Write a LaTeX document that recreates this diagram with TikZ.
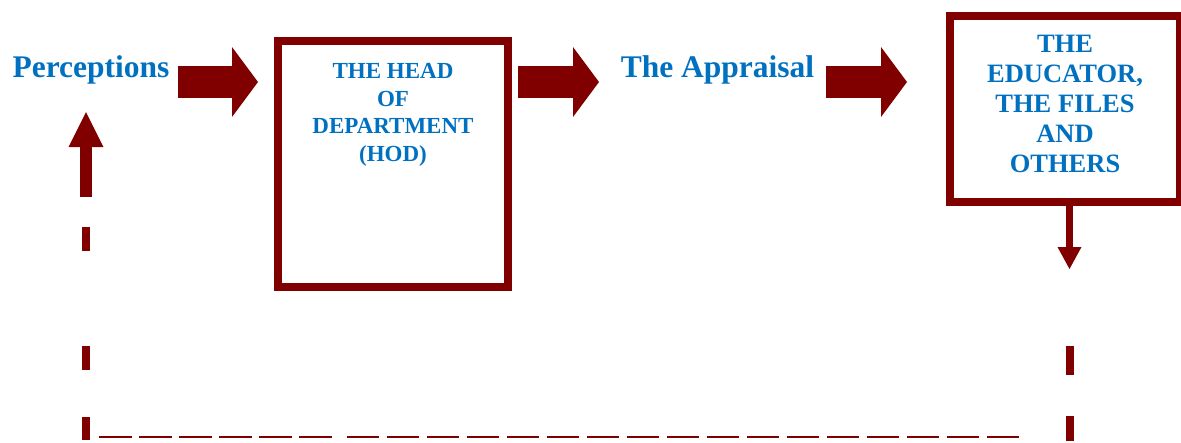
\documentclass[tikz,border=0pt]{standalone}
\usepackage{fontspec}
\setmainfont{Liberation Serif}
\usetikzlibrary{arrows.meta,calc}
\definecolor{maroon}{HTML}{800000}
\definecolor{txtblue}{HTML}{0070C0}
\begin{document}
\begin{tikzpicture}[x=1pt,y=-1pt,
  bigtext/.style={text=txtblue,inner sep=0pt,font=\fontsize{31.5}{36}\selectfont\bfseries},
  boxtext/.style={text=txtblue,inner sep=0pt,align=center},
  panel/.style={draw=maroon,line width=7.5pt,inner sep=0pt},
  blockarrow/.style={draw=maroon,line width=32pt,
    -{Triangle[length=26pt,width=70pt,line width=0pt]}},
  thinup/.style={draw=maroon,line width=12pt,
    -{Triangle[length=35pt,width=35pt,line width=0pt]}},
  thindown/.style={draw=maroon,line width=7.5pt,
    -{Triangle[length=22pt,width=24pt,line width=0pt]}},
  feedback/.style={draw=maroon,line width=8pt},
  returnline/.style={draw=maroon,line width=2.2pt}]
\useasboundingbox (0,0) rectangle (1181,442);

% text labels
\node[bigtext,anchor=base] (perc) at (91,77) {Perceptions};
\node[bigtext,anchor=base] (appr) at (717.5,77) {The Appraisal};

% framed boxes
\node[panel,minimum width=230pt,minimum height=246pt] (hod) at (393,164) {};
\node[boxtext,anchor=north,font=\fontsize{23}{27.7}\selectfont\bfseries] (hodtext) at (393,63)
  {THE HEAD\\OF\\DEPARTMENT\hspace*{12pt}\\(HOD)};
\node[panel,minimum width=230pt,minimum height=186pt] (edu) at (1065,109) {};
\node[boxtext,anchor=north,font=\fontsize{26.5}{30}\selectfont\bfseries] (edutext) at (1065,35)
  {THE\\EDUCATOR,\\THE FILES\\AND\\OTHERS};

% block arrows along the top row
\coordinate (a1s) at (178,82);   \coordinate (a1e) at (258,82);
\coordinate (a2s) at (518,82);   \coordinate (a2e) at (599,82);
\coordinate (a3s) at (826,82);   \coordinate (a3e) at (907,82);
\draw[blockarrow] (a1s) -- (a1e);
\draw[blockarrow] (a2s) -- (a2e);
\draw[blockarrow] (a3s) -- (a3e);

% arrow leaving the right box
\coordinate (dn) at (1069.5,269);
\draw[thindown] ($(edu.south)+(4.5,0)$) -- (dn);

% dashed return loop
\coordinate (rtop) at (1070,346);
\coordinate (rbot) at (1070,441);
\draw[feedback,dash pattern=on 25pt off 41pt on 29pt off 100pt] (rbot) -- (rtop);

\coordinate (h1s) at (99,437);  \coordinate (h1e) at (331.5,437);
\coordinate (h2s) at (347,437); \coordinate (h2e) at (1019,437);
\draw[returnline,dash pattern=on 32.5pt off 7.5pt] (h1s) -- (h1e);
\draw[returnline,dash pattern=on 32pt off 8pt] (h2s) -- (h2e);

\coordinate (lbot) at (86,440);
\coordinate (ltop) at (86,227);
\draw[feedback,dash pattern=on 23pt off 47pt on 24pt off 95pt on 24pt off 200pt] (lbot) -- (ltop);

\coordinate (ushaft) at (86,197);
\coordinate (utip) at (86,112);
\draw[thinup] (ushaft) -- (utip);
\end{tikzpicture}
\end{document}
